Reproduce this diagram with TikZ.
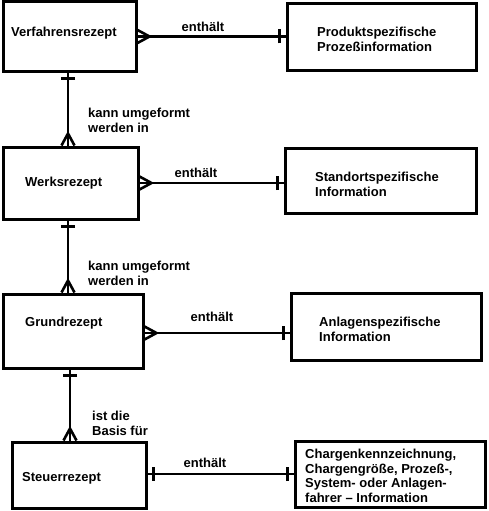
\documentclass[tikz,border=0pt]{standalone}
\usepackage{fontspec}
\setmainfont{Liberation Sans}
\begin{document}
\begin{tikzpicture}[x=1pt,y=-1pt,
  box/.style={draw, line width=3pt, rectangle, inner sep=0pt},
  conn/.style={line width=2.6pt},
  txt/.style={font=\bfseries\fontsize{13}{15}\selectfont, align=left, anchor=west, inner sep=0pt},
  crowfoot/.pic={\draw[conn, line join=miter] (0,-6.5) -- (12,0) -- (0,6.5);},
  onebar/.pic={\draw[conn] (6,-7) -- (6,7);}
]
\useasboundingbox (0,0) rectangle (488,511);

% boxes
\node[box, minimum width=133pt, minimum height=69pt] (V) at (69.5,36.5) {};
\node[box, minimum width=189pt, minimum height=66pt] (P) at (381.5,37) {};
\node[box, minimum width=135pt, minimum height=72pt] (W) at (70.5,183) {};
\node[box, minimum width=191pt, minimum height=65pt] (S) at (380.5,180.5) {};
\node[box, minimum width=140pt, minimum height=74pt] (G) at (73,331) {};
\node[box, minimum width=190pt, minimum height=67pt] (A) at (386,326.5) {};
\node[box, minimum width=134pt, minimum height=66pt] (St) at (79,475) {};
\node[box, minimum width=190pt, minimum height=66pt] (C) at (390,474) {};

% box texts
\node[txt] (tV) at (11,33) {Verfahrensrezept};
\node[txt] (tP) at (317,39.5) {Produktspezifische\\Prozeßinformation};
\node[txt] (tW) at (25,183) {Werksrezept};
\node[txt] (tS) at (315,184) {Standortspezifische\\Information};
\node[txt] (tG) at (25,323) {Grundrezept};
\node[txt] (tA) at (319,329) {Anlagenspezifische\\Information};
\node[txt] (tSt) at (22,478) {Steuerrezept};
\node[txt, font=\bfseries\fontsize{13}{14.5}\selectfont] (tC) at (305,476) {Chargenkennzeichnung,\\Chargengröße, Prozeß-,\\System- oder Anlagen-\\fahrer – Information};

% horizontal connectors
\draw[conn] (V.east) -- (V.east -| P.west);
\pic at (V.east) {crowfoot};
\pic[rotate=180] at (V.east -| P.west) {onebar};
\node[txt, anchor=center] (e1) at (203,27) {enthält};

\draw[conn] (W.east) -- (W.east -| S.west);
\pic at (W.east) {crowfoot};
\pic[rotate=180] at (W.east -| S.west) {onebar};
\node[txt, anchor=center] (e2) at (196,173) {enthält};

\draw[conn] ([yshift=-2pt]G.east) -- ([yshift=-2pt]G.east -| A.west);
\pic at ([yshift=-2pt]G.east) {crowfoot};
\pic[rotate=180] at ([yshift=-2pt]G.east -| A.west) {onebar};
\node[txt, anchor=center] (e3) at (212,317) {enthält};

\draw[conn] ([yshift=1pt]St.east) -- ([yshift=1pt]St.east -| C.west);
\pic at ([yshift=1pt]St.east) {onebar};
\pic[rotate=180] at ([yshift=1pt]St.east -| C.west) {onebar};
\node[txt, anchor=center] (e4) at (205,463) {enthält};

% vertical connectors
\draw[conn] ([xshift=-1.5pt]V.south) -- ([xshift=-1.5pt]V.south |- W.north);
\pic[rotate=-90] at ([xshift=-1.5pt]V.south) {onebar};
\pic[rotate=90] at ([xshift=-1.5pt]V.south |- W.north) {crowfoot};
\node[txt] (l1) at (88,120) {kann umgeformt\\werden in};

\draw[conn] ([xshift=-2.5pt]W.south) -- ([xshift=-2.5pt]W.south |- G.north);
\pic[rotate=-90] at ([xshift=-2.5pt]W.south) {onebar};
\pic[rotate=90] at ([xshift=-2.5pt]W.south |- G.north) {crowfoot};
\node[txt] (l2) at (88,273.5) {kann umgeformt\\werden in};

\draw[conn] ([xshift=-3pt]G.south) -- ([xshift=-3pt]G.south |- St.north);
\pic[rotate=-90] at ([xshift=-3pt]G.south) {onebar};
\pic[rotate=90] at ([xshift=-3pt]G.south |- St.north) {crowfoot};
\node[txt] (l3) at (92,423.5) {ist die\\Basis für};
\end{tikzpicture}
\end{document}
